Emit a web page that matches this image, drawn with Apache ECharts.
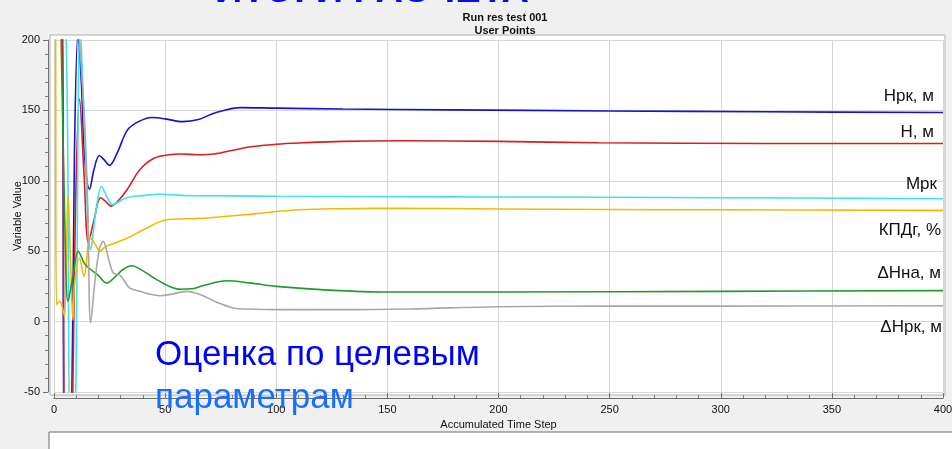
<!DOCTYPE html>
<html>
<head>
<meta charset="utf-8">
<script src="https://cdn.jsdelivr.net/npm/echarts@6/dist/echarts.min.js"></script>
<style>
  html, body { margin: 0; padding: 0; background: #f0f0f0; }
  #chart_line { width: 952px; height: 449px; }
</style>
</head>
<body>
<div id="chart_line"></div>
<script>
// время (шаг) и значения для каждой кривой
const hrkT = [0, 3.5, 4.6, 6, 7.6, 9.2, 10.8, 12.3, 13.8, 16, 18, 20.4, 22.5, 25, 28.5, 33, 38, 44, 50, 58, 65, 72, 84, 100, 130, 178, 250, 320, 400]
const hrkV = [250, 240, -110, -140, -110, 120, 204, 170, 117, 94, 108, 118, 115, 111, 120, 136, 142, 145, 144, 142, 143.5, 148, 152, 151.6, 151, 150.4, 149.6, 149, 148.5]

const hT = [0, 3.6, 4.7, 6, 7.8, 9.8, 11.5, 13.5, 15.5, 18, 21, 23.5, 25.6, 29, 33, 38.7, 45, 52, 57, 65, 72, 80, 88, 100, 112, 130, 156, 200, 245, 320, 400]
const hV = [245, 235, -110, -140, -100, 90, 158, 105, 56, 72, 88, 85, 82, 86, 94, 108, 116, 118.5, 119, 118.5, 119, 121.5, 124, 126, 127, 128, 128.4, 128, 127, 126.5, 126.5]

const mrkT = [0, 3, 5.5, 7, 8.3, 9.6, 11.8, 14, 16.5, 19, 21.4, 24, 26.4, 29, 32.7, 40, 47.7, 60, 80, 100, 150, 200, 300, 400]
const mrkV = [230, 220, 200, -80, -110, -70, 210, 125, 51, 80, 96, 88, 83, 85, 88, 89.5, 90.5, 89.5, 89.3, 89, 88.7, 88.5, 88, 87.3]

const kpdT = [0, 0.6, 1.1, 2.6, 4, 4.8, 6.3, 7.5, 8.5, 9.3, 11.5, 13.5, 16.3, 18.5, 20.7, 23, 26, 32.7, 40, 50.7, 60, 70, 90, 110, 130, 155, 200, 250, 300, 400]
const kpdV = [260, 250, 12, 14.4, 8.5, 3.8, 90, 40, 1, 28, 45, 32, 60, 55, 50, 53, 55, 59, 65, 72.3, 73, 73.8, 76.5, 79.4, 80.2, 80.5, 80, 79.6, 79.4, 79]

const dhnaT = [0, 2.2, 3.2, 5, 6.3, 8.5, 10.9, 13.8, 16.5, 19.8, 23.7, 27, 31, 35, 40, 46, 52, 57, 62, 68, 77.7, 88, 100, 120, 150, 200, 300, 400]
const dhnaV = [260, 250, 200, 60, 14.4, 32, 50, 41, 37, 33, 27.4, 31, 37, 39.7, 36, 30, 25, 23, 23.3, 26, 29, 27.5, 25, 22.7, 21, 21, 21.5, 22]

const dhrkT = [0, 3, 8, 11, 12.5, 14, 15.2, 16.5, 18.5, 20.5, 22.2, 24.5, 26.7, 29.7, 34, 38.7, 43, 47.7, 53, 59.7, 66, 73, 80.7, 90, 100, 130, 160, 200, 250, 300, 400]
const dhrkV = [240, 230, 225, 205, 175, 135, 80, -1, 30, 52, 57, 45, 34.5, 33, 24, 21.5, 19.5, 18.4, 19.5, 21.5, 19, 14, 9.7, 8.8, 8.5, 8.5, 9, 10.6, 11, 11, 11.3]

const seriesNames = ['Нрк, м', 'Н, м', 'Мрк', 'КПДг, %', 'ΔНна, м', 'ΔНрк, м']
const seriesColors = ['#1414c8', '#d81e1e', '#3ce4f0', '#f5b800', '#229a2a', '#a8a8a8']
const seriesData = [[hrkT, hrkV], [hT, hV], [mrkT, mrkV], [kpdT, kpdV], [dhnaT, dhnaV], [dhrkT, dhrkV]]

const yTicks = [-50, 0, 50, 100, 150, 200]
const xTicks = [0, 50, 100, 150, 200, 250, 300, 350, 400]

const zip = (t, v) => t.map((x, i) => [x, v[i]])
const font = '"Liberation Sans", Arial, sans-serif'

const initLine = () => {
  const ele = document.getElementById('chart_line')
  const lineChart = echarts.init(ele, null, { renderer: 'canvas' })

  // подписи кривых справа
  const labelY = [96, 132, 184, 230, 273, 327]
  const labelX = [934, 934, 937, 941, 941, 942]
  const rightLabels = seriesNames.map((name, i) => ({
    type: 'text',
    z: 50,
    style: {
      text: name, x: labelX[i], y: labelY[i],
      align: 'right', verticalAlign: 'middle',
      textAlign: 'right', textVerticalAlign: 'middle',
      font: '17px ' + font, fill: '#111'
    }
  }))

  const option = {
    backgroundColor: '#f0f0f0',
    animation: false,
    title: [
      { text: 'Run res test 001', left: 500, top: 7, textAlign: 'center', textStyle: { fontSize: 11, fontWeight: 'bold', color: '#111', fontFamily: font } },
      { text: 'User Points', left: 500, top: 20, textAlign: 'center', textStyle: { fontSize: 11, fontWeight: 'bold', color: '#111', fontFamily: font } }
    ],
    grid: [
      { left: 54, right: 9, top: 40, bottom: 57, outerBoundsMode: 'none', containLabel: false },
      { left: 50, right: 7, top: 35, bottom: 54, outerBoundsMode: 'none', show: true, z: -1, backgroundColor: '#fff', borderColor: '#b0b0b0', borderWidth: 1 }
    ],
    xAxis: [
      {
        type: 'value', min: xTicks[0], max: xTicks[xTicks.length - 1], interval: 50,
        offset: 6,
        name: 'Accumulated Time Step', nameLocation: 'middle', nameGap: 19,
        nameTextStyle: { fontSize: 11, color: '#111', fontFamily: font },
        axisLine: { show: true, onZero: false, lineStyle: { color: '#707070' } },
        axisTick: { show: true, inside: true, length: 5, lineStyle: { color: '#707070' } },
        minorTick: { show: true, splitNumber: 5, length: 3, lineStyle: { color: '#808080' } },
        axisLabel: { fontSize: 11, color: '#111', fontFamily: font, margin: 6 },
        splitLine: { show: true, lineStyle: { color: '#d6d6d6' } }
      },
      { type: 'value', gridIndex: 1, show: false }
    ],
    yAxis: [
      {
        type: 'value', min: yTicks[0], max: yTicks[yTicks.length - 1], interval: 50,
        offset: 6,
        name: 'Variable Value', nameLocation: 'middle', nameGap: 25, nameRotate: 90, nameMoveOverlap: false,
        nameTextStyle: { fontSize: 11, color: '#111', fontFamily: font },
        axisLine: { show: true, onZero: false, lineStyle: { color: '#707070' } },
        axisTick: { show: true, length: 5, lineStyle: { color: '#707070' } },
        minorTick: { show: true, splitNumber: 5, length: 3, lineStyle: { color: '#808080' } },
        axisLabel: { fontSize: 11, color: '#111', fontFamily: font, margin: 8 },
        splitLine: { show: true, lineStyle: { color: '#d6d6d6' } }
      },
      { type: 'value', gridIndex: 1, show: false }
    ],
    series: seriesData.map((d, i) => ({
      name: seriesNames[i],
      type: 'line',
      smooth: 0.35,
      showSymbol: false,
      clip: true,
      color: seriesColors[i],
      lineStyle: { width: 1.6, color: seriesColors[i] },
      data: zip(d[0], d[1])
    })),
    graphic: [
      // обрезанный заголовок слайда сверху
      { type: 'text', z: 60, style: { text: 'ИТОГИ РАСЧЁТА', x: 215, y: -8, verticalAlign: 'middle', textVerticalAlign: 'middle', font: 'bold 38px ' + font, fill: '#0a0af0' } },
      // нижняя панель
      { type: 'rect', z: 5, shape: { x: 49, y: 432, width: 920, height: 40 }, style: { fill: '#fff', stroke: '#6a6a6a', lineWidth: 1 } },
      ...rightLabels,
      { type: 'text', z: 60, style: { text: 'Оценка по целевым', x: 155, y: 355, verticalAlign: 'middle', textVerticalAlign: 'middle', font: '35px ' + font, fill: '#0000ff' } },
      { type: 'text', z: 60, style: { text: 'параметрам', x: 155, y: 398, verticalAlign: 'middle', textVerticalAlign: 'middle', font: '35px ' + font, fill: '#1670ff' } }
    ]
  }
  lineChart.setOption(option)
}

initLine()
</script>
</body>
</html>
